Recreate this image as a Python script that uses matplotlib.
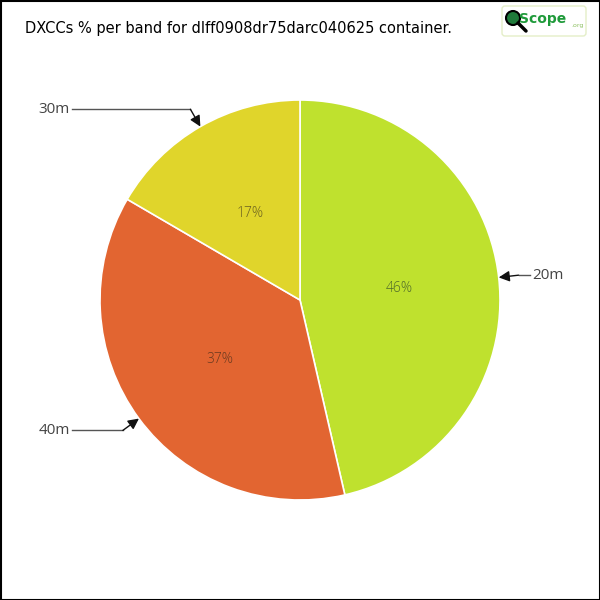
import numpy as np
import matplotlib
matplotlib.use("Agg")
import matplotlib.pyplot as plt
from matplotlib.patches import FancyBboxPatch, Circle, Rectangle

bands = ["20m", "40m", "30m"]
shares = [46.4, 37.0, 16.6]
colors = ["#BFE12E", "#E26531", "#E0D52B"]
title = "DXCCs % per band for dlff0908dr75darc040625 container."

fig = plt.figure(figsize=(6, 6), dpi=100)
ax = fig.add_axes([0, 0, 1, 1])

cx, cy, r = 300, 300, 200
wedges, texts, autotexts = ax.pie(
    shares, colors=colors, startangle=90, counterclock=False,
    center=(cx, cy), radius=r, autopct="%1.0f%%", pctdistance=0.5,
    wedgeprops=dict(edgecolor="white", linewidth=1.2),
    textprops=dict(fontsize=10, color="#4f6a2a", family="Open Sans"),
    frame=True,
)
ax.set_xlim(0, 600)
ax.set_ylim(0, 600)
ax.set_aspect("equal")
ax.axis("off")
for t in autotexts:
    t.set_fontweight("light")
autotexts[1].set_color("#6a3a20")
autotexts[2].set_color("#6a6020")

# callouts
for w, lab in zip(wedges, bands):
    ang = np.deg2rad((w.theta1 + w.theta2) / 2)
    dx, dy = np.cos(ang), np.sin(ang)
    tip = (cx + r * dx, cy + r * dy)
    elbow = (cx + 1.1 * r * dx, cy + 1.1 * r * dy)
    if dx < 0:
        end_x, ha = 72, "right"
    else:
        end_x, ha = 530, "left"
    ax.plot([end_x, elbow[0]], [elbow[1], elbow[1]], color="#555555", lw=1)
    ax.annotate("", xy=tip, xytext=elbow,
                arrowprops=dict(arrowstyle="-|>", color="#111111", lw=1,
                                mutation_scale=16, shrinkA=0, shrinkB=0))
    ax.text(end_x + (2 if ha == "left" else -2), elbow[1], lab, ha=ha, va="center",
            fontsize=11, color="#444444", family="Open Sans")

# title
ax.text(25, 572, title, ha="left", va="center", fontsize=10.5, color="black",
        family="DejaVu Sans")

# logo
ax.add_patch(FancyBboxPatch((502, 564), 84, 30, boxstyle="round,pad=0,rounding_size=3",
                            facecolor="white", edgecolor="#E4EEC8", lw=1))
ax.add_patch(Circle((513, 582), 7, facecolor="#1f7a3a", edgecolor="black", lw=1.5))
ax.plot([518, 526], [577, 569], color="black", lw=2.5, solid_capstyle="round")
ax.text(519, 581, "Scope", ha="left", va="center", fontsize=10, color="#1f9a3a",
        fontweight="bold", family="DejaVu Sans")
ax.text(571, 574, ".org", ha="left", va="center", fontsize=4.5, color="#8cc060")

# frame
ax.add_patch(Rectangle((0.5, 0.5), 599, 599, fill=False, edgecolor="black", lw=1.5))

fig.savefig("out.png", dpi=100)
